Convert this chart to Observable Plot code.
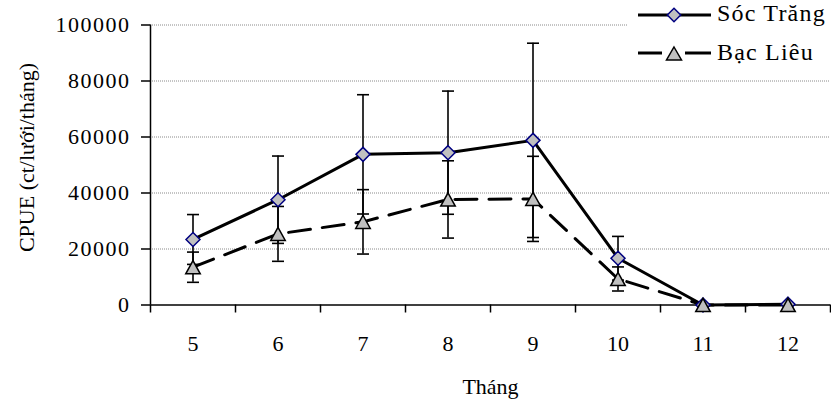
<!DOCTYPE html>
<html>
<head>
<meta charset="utf-8">
<script src="https://cdn.jsdelivr.net/npm/d3@7"></script>
<script src="https://cdn.jsdelivr.net/npm/@observablehq/plot@0.6"></script>
<style>
  body { margin: 0; background: #fff; }
  #wrap { position: relative; width: 831px; height: 401px; overflow: hidden; font-family: "Liberation Serif", "Times New Roman", serif; }
  #wrap svg text { font-family: "Liberation Serif", "Times New Roman", serif; }
  [aria-label="y-axis tick label"] text { letter-spacing: 1.5px; }
  #legend { position: absolute; left: 627px; top: 0; width: 204px; height: 70px; background: #fff; }
</style>
</head>
<body>
<div id="wrap"></div>
<script>
// ---- data ----
const months = [5, 6, 7, 8, 9, 10, 11, 12];
const socTrang    = [23400, 37600, 53800, 54400, 58800, 16700, 0, 300];
const socTrangErr = [8900, 15600, 21300, 22000, 34700, 7800, 0, 0];
const bacLieu     = [13500, 25400, 29700, 37700, 37900, 9300, 0, 0];
const bacLieuErr  = [5400, 9800, 11500, 13800, 15200, 4300, 0, 0];
const seriesNames = ["Sóc Trăng", "Bạc Liêu"];
const yTicks = [0, 20000, 40000, 60000, 80000, 100000];
const xLabel = "Tháng";
const yLabel = "CPUE (ct/lưới/tháng)";

// ---- build tables ----
const st = months.map((m, i) => ({month: m, v: socTrang[i], e: socTrangErr[i]}));
const bl = months.map((m, i) => ({month: m, v: bacLieu[i], e: bacLieuErr[i]}));
const withErr = d => d.e > 0;
const caps = rows => rows.filter(withErr).flatMap(d => [{month: d.month, y: d.v - d.e}, {month: d.month, y: d.v + d.e}]);
const xEdges = [months[0] - 0.5, ...months.map(m => m + 0.5)];

// ---- custom symbols ----
const capSymbol = {draw(ctx, size) { const r = Math.sqrt(size / Math.PI); ctx.moveTo(-r, 0); ctx.lineTo(r, 0); }};
const diamondSymbol = {draw(ctx, size) { const r = Math.sqrt(size / Math.PI); ctx.moveTo(0, -r); ctx.lineTo(r, 0); ctx.lineTo(0, r); ctx.lineTo(-r, 0); ctx.closePath(); }};
const triangleSymbol = {draw(ctx, size) { const r = Math.sqrt(size / Math.PI); ctx.moveTo(0, -r); ctx.lineTo(r * 1.1, r); ctx.lineTo(-r * 1.1, r); ctx.closePath(); }};

const plot = Plot.plot({
  width: 831,
  height: 401,
  marginLeft: 150,
  marginRight: 1,
  marginTop: 24.5,
  marginBottom: 96.5,
  style: {fontSize: "22px", fontFamily: "Liberation Serif, Times New Roman, serif", background: "#fff", color: "#000"},
  x: {type: "linear", domain: [xEdges[0], xEdges[xEdges.length - 1]]},
  y: {domain: [0, 100000]},
  marks: [
    Plot.gridY(yTicks.filter(t => t > 0), {stroke: "#8a8a8a", strokeOpacity: 1, strokeDasharray: "1,1", strokeWidth: 1}),
    Plot.axisY({ticks: yTicks, tickSize: 9, tickPadding: 11, tickFormat: d => String(d), label: null, strokeWidth: 1.5}),
    Plot.axisX({ticks: xEdges, tickSize: 8, tickFormat: () => "", label: null, strokeWidth: 1.5}),
    Plot.axisX({ticks: months, tickSize: 0, tickPadding: 30, tickFormat: d => String(d), label: null}),
    Plot.ruleX([xEdges[0]], {y1: 0, y2: 100000, strokeWidth: 1.5}),
    Plot.ruleY([0], {strokeWidth: 1.5}),
    Plot.text([yLabel], {frameAnchor: "left", rotate: -90, dx: -124, dy: -7.5, textAnchor: "middle", lineAnchor: "middle", fontSize: 22}),
    Plot.text([xLabel], {frameAnchor: "bottom", dy: 81.5, textAnchor: "middle", lineAnchor: "middle", fontSize: 22}),
    // error bars
    Plot.ruleX(st.filter(withErr), {x: "month", y1: d => d.v - d.e, y2: d => d.v + d.e, stroke: "#000", strokeWidth: 1.6}),
    Plot.dot(caps(st), {x: "month", y: "y", symbol: capSymbol, r: 6, stroke: "#000", strokeWidth: 1.6, fill: "none"}),
    Plot.ruleX(bl.filter(withErr), {x: "month", y1: d => d.v - d.e, y2: d => d.v + d.e, stroke: "#000", strokeWidth: 1.6}),
    Plot.dot(caps(bl), {x: "month", y: "y", symbol: capSymbol, r: 6, stroke: "#000", strokeWidth: 1.6, fill: "none"}),
    // lines
    Plot.line(st, {x: "month", y: "v", stroke: "#000", strokeWidth: 3}),
    Plot.line(bl, {x: "month", y: "v", stroke: "#000", strokeWidth: 3, strokeDasharray: "22,12"}),
    // markers
    Plot.dot(st, {x: "month", y: "v", symbol: diamondSymbol, r: 7, fill: "#c0c0c0", stroke: "#000080", strokeWidth: 1.5}),
    Plot.dot(bl, {x: "month", y: "v", symbol: triangleSymbol, r: 6.6, fill: "#c0c0c0", stroke: "#000", strokeWidth: 1.5})
  ]
});

const wrap = document.getElementById("wrap");
wrap.appendChild(plot);

// ---- legend ----
const legend = document.createElement("div");
legend.id = "legend";
legend.innerHTML = `
<svg width="204" height="70" xmlns="http://www.w3.org/2000/svg">
  <line x1="11" y1="15" x2="84" y2="15" stroke="#000" stroke-width="3"/>
  <path d="M47,8.3 L53.7,15 L47,21.7 L40.3,15 Z" fill="#c0c0c0" stroke="#000080" stroke-width="1.5"/>
  <text x="90" y="21" font-family="Liberation Serif, Times New Roman, serif" font-size="24" letter-spacing="1.2" fill="#000">${seriesNames[0]}</text>
  <line x1="11" y1="53" x2="35" y2="53" stroke="#000" stroke-width="3"/>
  <line x1="58" y1="53" x2="84" y2="53" stroke="#000" stroke-width="3"/>
  <path d="M47,47 L54.5,60 L39.5,60 Z" fill="#c0c0c0" stroke="#000" stroke-width="1.5"/>
  <text x="90" y="60" font-family="Liberation Serif, Times New Roman, serif" font-size="24" letter-spacing="1.2" fill="#000">${seriesNames[1]}</text>
</svg>`;
wrap.appendChild(legend);
</script>
</body>
</html>
